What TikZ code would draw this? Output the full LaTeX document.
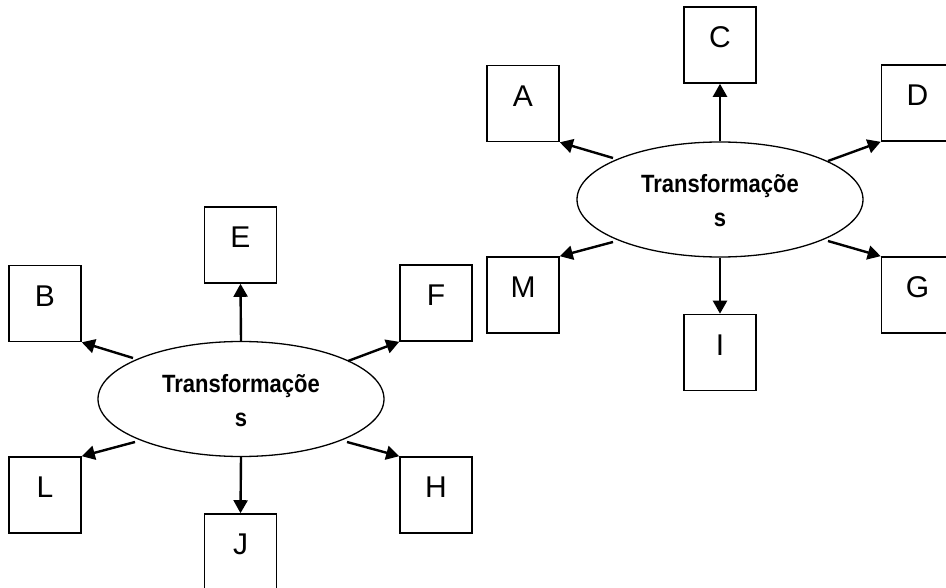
\documentclass[tikz,border=0pt]{standalone}
\usepackage{fontspec}
\setmainfont{Liberation Sans}
\newfontfamily\ellfont[FakeStretch=0.88]{Liberation Sans}
\usetikzlibrary{arrows.meta,calc,shapes.geometric}
\begin{document}
\begin{tikzpicture}[x=1pt,y=-1pt,
  box/.style={draw,line width=1.6pt,rectangle,minimum width=72pt,minimum height=76pt,inner sep=0pt,
    font=\fontsize{30}{34}\selectfont,text height=21.5pt,text depth=16pt},
  ell/.style={draw,line width=1.3pt,ellipse,minimum width=286pt,minimum height=115pt,inner sep=0pt},
  lbl/.style={anchor=base,inner sep=0pt,font=\ellfont\fontsize{25}{30}\selectfont\bfseries},
  arr/.style={line width=2.4pt,-{Triangle[length=13pt,width=14pt]}}]
\useasboundingbox (0,0) rectangle (946,588);
% right cluster
\node[ell] (r) at (720,199.5) {};
\node[lbl] (r1) at (720,193) {Transformaçõe};
\node[lbl] (r2) at (720,227) {s};
\node[box] (C) at (720,45) {C};
\node[box] (A) at (523,103.5) {A};
\node[box] (D) at (917.5,103) {D};
\node[box] (M) at (523,295) {M};
\node[box] (G) at (917.5,295) {G};
\node[box] (I) at (720,352.5) {I};
\coordinate (ra) at ($(r.center)+(-107,-41.5)$);
\coordinate (rd) at ($(r.center)+(108,-38.5)$);
\coordinate (rm) at ($(r.center)+(-107,42.5)$);
\coordinate (rg) at ($(r.center)+(108,41.5)$);
\draw[arr] (r.north) -- (C.south);
\draw[arr] (ra) -- (A.south east);
\draw[arr] (rd) -- (D.south west);
\draw[arr] (rm) -- (M.north east);
\draw[arr] (rg) -- (G.north west);
\draw[arr] (r.south) -- (I.north);
% left cluster
\node[ell] (l) at (241,399) {};
\node[lbl] (l1) at (241,392.5) {Transformaçõe};
\node[lbl] (l2) at (241,426.5) {s};
\node[box] (E) at (240.5,245) {E};
\node[box] (B) at (45,303.5) {B};
\node[box] (F) at (436,303) {F};
\node[box] (L) at (45,495) {L};
\node[box] (H) at (436,495) {H};
\node[box] (J) at (240.5,552) {J};
\coordinate (lb) at ($(l.center)+(-108,-41)$);
\coordinate (lf) at ($(l.center)+(107,-38)$);
\coordinate (ll) at ($(l.center)+(-106,43)$);
\coordinate (lh) at ($(l.center)+(106,43)$);
\draw[arr] (l.north) -- (E.south);
\draw[arr] (lb) -- (B.south east);
\draw[arr] (lf) -- (F.south west);
\draw[arr] (ll) -- (L.north east);
\draw[arr] (lh) -- (H.north west);
\draw[arr] (l.south) -- (J.north);
\end{tikzpicture}
\end{document}
